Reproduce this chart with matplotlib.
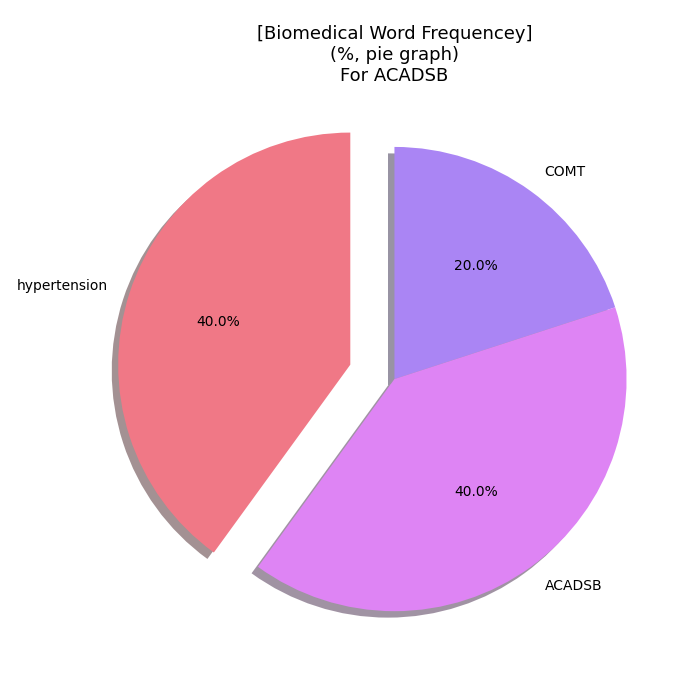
import matplotlib
matplotlib.use("Agg")
import matplotlib.pyplot as plt

labels = ["COMT", "ACADSB", "hypertension"]
values = [20, 40, 40]
colors = ["#aa85f4", "#de84f4", "#f07886"]
explode = [0, 0, 0.2]

fig = plt.figure(figsize=(7, 7), dpi=100)
ax = fig.add_axes([0.149, 0.044, 0.829, 0.829])
ax.pie(values, labels=labels, colors=colors, explode=explode, autopct="%1.1f%%",
       startangle=90, counterclock=False,
       shadow={"ox": -0.02, "oy": -0.02, "edgecolor": "none"})
ax.set_title("[Biomedical Word Frequencey]\n(%, pie graph)\nFor ACADSB", fontsize=13)
fig.savefig("out.png", dpi=100)
